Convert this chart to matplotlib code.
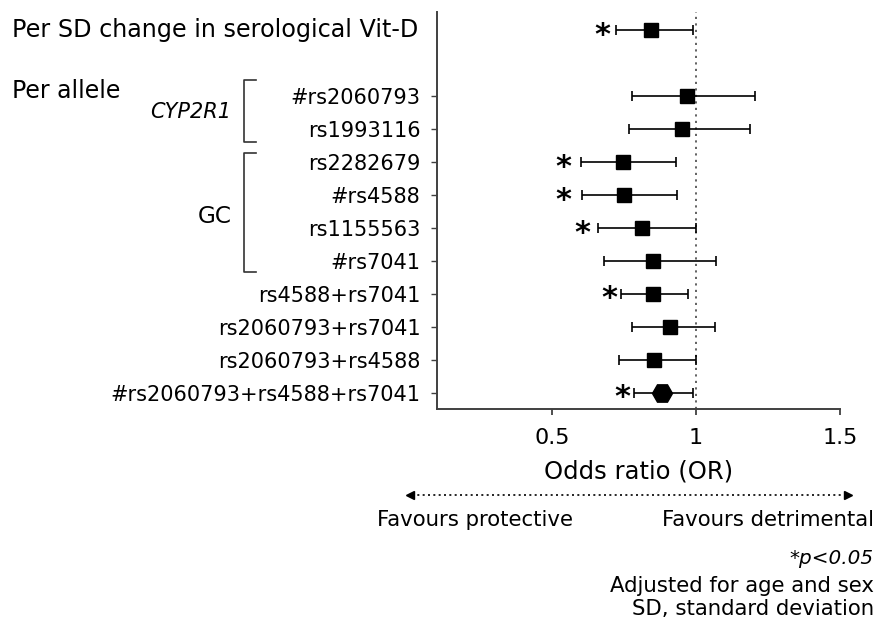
import matplotlib
matplotlib.use("Agg")
import matplotlib.pyplot as plt
import matplotlib.transforms as mtransforms
from matplotlib.lines import Line2D

plt.rcParams['font.family'] = ['DejaVu Sans']

# ---------------- data ----------------
header_label = "Per SD change in serological Vit-D"
header_or = 0.845
header_lo = 0.722
header_hi = 0.991
header_star = 0.674

snp_labels = ["#rs2060793", "rs1993116", "rs2282679", "#rs4588", "rs1155563",
              "#rs7041", "rs4588+rs7041", "rs2060793+rs7041", "rs2060793+rs4588",
              "#rs2060793+rs4588+rs7041"]
snp_or = [0.968, 0.952, 0.746, 0.748, 0.811, 0.852, 0.849, 0.909, 0.854, 0.881]
snp_lo = [0.777, 0.766, 0.600, 0.602, 0.658, 0.680, 0.740, 0.776, 0.731, 0.784]
snp_hi = [1.206, 1.186, 0.929, 0.933, 1.000, 1.069, 0.971, 1.066, 1.000, 0.990]
snp_star = [None, None, 0.540, 0.540, 0.604, None, 0.700, None, None, 0.744]

xticks = [0.5, 1, 1.5]
xticklabels = ["0.5", "1", "1.5"]

# ---------------- figure ----------------
W, H = 877, 619
fig = plt.figure(figsize=(W / 100, H / 100), dpi=100)
ax = fig.add_axes([437 / W, 1 - 409 / H, (840 - 437) / W, (409 - 12) / H])

n = len(snp_labels)
ypos = [n - 1 - i for i in range(n)]     # bottom row at 0
header_y = n + 1

FS_TICK = 15
FS_HEAD = 17.2
FS_NOTE = 15.3
spine_col = "#404040"
STAR_FS = 22


def star(x, y):
    ax.annotate("*", xy=(x, y), xytext=(0, -0.45 * STAR_FS),
                textcoords='offset points', fontsize=STAR_FS,
                fontweight='bold', ha='center', va='baseline', color='black')


# reference line
ax.axvline(1, color="#555555", lw=1.3, ls=(0, (1.2, 2.4)), zorder=1)

# header row
ax.errorbar([header_or], [header_y],
            xerr=[[header_or - header_lo], [header_hi - header_or]],
            fmt='s', color='black', ms=10.3, capsize=3.3, elinewidth=1.2,
            capthick=1.2, zorder=3)
star(header_star, header_y)

# SNP rows
for i in range(n):
    marker = 'H' if i == n - 1 else 's'
    ms = 14.4 if i == n - 1 else 10.3
    ax.errorbar([snp_or[i]], [ypos[i]],
                xerr=[[snp_or[i] - snp_lo[i]], [snp_hi[i] - snp_or[i]]],
                fmt=marker, color='black', ms=ms, capsize=3.3, elinewidth=1.2,
                capthick=1.2, zorder=3)
    if snp_star[i] is not None:
        star(snp_star[i], ypos[i])

ax.set_xlim(0.1, 1.5)
ax.set_ylim(-0.5, n + 1.55)
ax.set_yticks(ypos)
ax.set_yticklabels(snp_labels, fontsize=FS_TICK)
ax.set_xticks(xticks)
ax.set_xticklabels(xticklabels, fontsize=16)
ax.tick_params(axis='y', length=4, width=1, color=spine_col, pad=8)
ax.tick_params(axis='x', length=4.3, width=1.3, color=spine_col, pad=9.5)
for s in ['top', 'right']:
    ax.spines[s].set_visible(False)
for s in ['left', 'bottom']:
    ax.spines[s].set_color(spine_col)
    ax.spines[s].set_linewidth(1.4)
ax.spines['bottom'].set_bounds(0.1, 1.5)

ax.set_xlabel("Odds ratio (OR)", fontsize=17.5, labelpad=8.3)

# left-side annotations (x in figure pixels, y in data)
tr = mtransforms.blended_transform_factory(
    mtransforms.Affine2D().scale(1 / W, 1) + fig.transFigure, ax.transData)
fig.text(12, header_y, header_label, fontsize=FS_HEAD, ha='left', va='center',
         transform=tr)
fig.text(12, n - 1 + 0.15, "Per allele", fontsize=17, ha='left', va='center',
         transform=tr)
fig.text(231, 8.5, "CYP2R1", fontsize=15, style='italic', ha='right',
         va='center', transform=tr)
fig.text(232, 5.35, "GC", fontsize=16.7, ha='right', va='center',
         transform=tr)

# brackets
for (top, bot) in [(9.48, 7.60), (7.26, 3.66)]:
    fig.add_artist(Line2D([256, 243.5, 243.5, 256], [top, top, bot, bot],
                          transform=tr, color='#333333', lw=1.2,
                          clip_on=False))

# favour arrow
ftr = mtransforms.Affine2D().scale(1 / W, -1 / H).translate(0, 1) + fig.transFigure
fig.add_artist(Line2D([412, 846], [495, 495], transform=ftr, color='black',
                      lw=1.2, ls=(0, (1.2, 2.0))))
fig.add_artist(Line2D([410], [495], transform=ftr, marker='<', ms=6,
                      color='black', ls='none'))
fig.add_artist(Line2D([848], [495], transform=ftr, marker='>', ms=6,
                      color='black', ls='none'))

fig.text(377, 520, "Favours protective", fontsize=FS_NOTE, ha='left',
         va='center', transform=ftr)
fig.text(874, 520, "Favours detrimental", fontsize=FS_NOTE, ha='right',
         va='center', transform=ftr)
fig.text(874, 559, "*p<0.05", fontsize=14.4, style='italic', ha='right',
         va='center', transform=ftr)
fig.text(874, 586, "Adjusted for age and sex", fontsize=FS_NOTE, ha='right',
         va='center', transform=ftr)
fig.text(874, 609, "SD, standard deviation", fontsize=FS_NOTE, ha='right',
         va='center', transform=ftr)

fig.savefig("out.png", dpi=100)
